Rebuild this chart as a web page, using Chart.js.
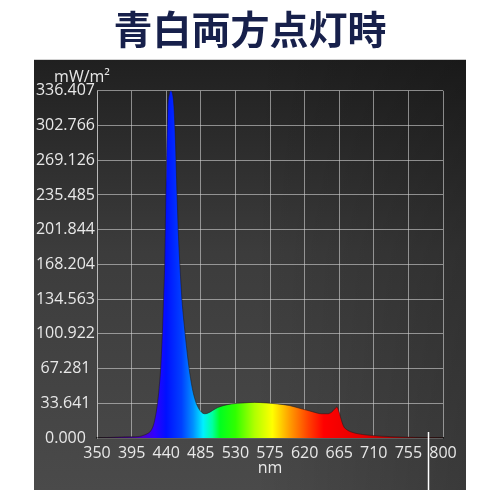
<!DOCTYPE html>
<html>
<head>
<meta charset="utf-8">
<style>
  html, body { margin: 0; padding: 0; background: #ffffff; }
  #wrap { width: 500px; height: 500px; }
</style>
<script src="https://cdn.jsdelivr.net/npm/chart.js@4.4.1/dist/chart.umd.min.js"></script>
</head>
<body>
<div id="wrap"><canvas id="c" width="500" height="500"></canvas></div>
<script>
// Spectral irradiance with both the blue and the white LEDs switched on
const titleText = '青白両方点灯時';
const unitLabel = 'mW/m²';
const axisLabelX = 'nm';

// wavelength (nm)
const wavelengths = [
  350, 365, 380, 395, 405, 410, 415, 420, 424, 428,
  431, 433, 435, 436.5, 438, 440, 442, 444, 446, 448,
  450, 452, 454, 456, 458, 460.5, 464.5, 469.5, 474, 478,
  482, 486, 490, 494, 500, 507, 515, 525, 540, 555,
  570, 585, 600, 615, 630, 642, 650, 655, 659, 662,
  665, 668, 671, 675, 680, 690, 700, 715, 735, 760,
  780, 800
];
// irradiance (mW/m²)
const irradiance = [
  0, 0.5, 1, 1.2, 1.5, 2.5, 4, 7, 14, 30,
  50, 70, 102, 134, 168, 255, 318, 333, 336.4, 334,
  322, 288, 238, 195, 165, 134, 102, 69, 48, 36,
  29, 25, 23.5, 24, 26.5, 29.5, 31.5, 33, 34, 34.5,
  34, 33, 31.5, 28.5, 25.5, 23.5, 23.5, 25, 28, 30,
  25, 17, 11, 8, 6, 4, 3, 2, 1.2, 0.7,
  0.4, 0.2
];

const xTickValues = [350, 395, 440, 485, 530, 575, 620, 665, 710, 755, 800];
const yTickLabels = ['0.000', '33.641', '67.281', '100.922', '134.563', '168.204',
                     '201.844', '235.485', '269.126', '302.766', '336.407'];
const yTickValues = yTickLabels.map(Number);
const cursorWavelength = 780;

// colour of light at each wavelength, used for the fill under the curve
const spectrumStops = [
  [350, '#2a0040'], [390, '#3a0080'], [410, '#4b00c8'], [425, '#3000ff'],
  [440, '#0010ff'], [460, '#0040ff'], [475, '#0090ff'], [488, '#00f0ff'],
  [500, '#00ffa0'], [510, '#00ff20'], [530, '#30ff00'], [555, '#b0ff00'],
  [578, '#ffff00'], [600, '#ffa000'], [625, '#ff4000'], [645, '#ff0000'],
  [700, '#e00000'], [750, '#900000'], [800, '#400000']
];

const points = wavelengths.map((nm, i) => ({ x: nm, y: irradiance[i] }));
const labelFont = { family: "'Open Sans', 'Noto Sans', sans-serif", size: 16 };
const labelColor = '#e8e8e8';
const gridColor = 'rgba(210,210,210,0.6)';

function spectrumFill(ctx) {
  const chart = ctx.chart;
  const area = chart.chartArea;
  if (!area) return 'rgba(0,0,255,0.8)';
  const xs = chart.scales.x;
  const x0 = xs.getPixelForValue(xTickValues[0]);
  const x1 = xs.getPixelForValue(xTickValues[xTickValues.length - 1]);
  const g = chart.ctx.createLinearGradient(x0, 0, x1, 0);
  const span = x1 - x0;
  spectrumStops.forEach(([nm, c]) => {
    g.addColorStop((xs.getPixelForValue(nm) - x0) / span, c);
  });
  return g;
}

// dark panel behind the plot, unit caption and the wavelength cursor
const panelPlugin = {
  id: 'panel',
  beforeDraw(chart) {
    const { ctx, chartArea } = chart;
    const left = chartArea.left - 63, top = chartArea.top - 31;
    const right = chartArea.right + 23, bottom = chartArea.bottom + 52;
    ctx.save();
    const v = ctx.createLinearGradient(0, top, 0, bottom);
    v.addColorStop(0, '#202020');
    v.addColorStop(0.45, '#3c3c3c');
    v.addColorStop(1, '#4a4a4a');
    ctx.fillStyle = v;
    ctx.fillRect(left, top, right - left, bottom - top);
    const h = ctx.createLinearGradient(left + 220, 0, right, 0);
    h.addColorStop(0, 'rgba(0,0,0,0)');
    h.addColorStop(1, 'rgba(0,0,0,0.22)');
    ctx.fillStyle = h;
    ctx.fillRect(left, top, right - left, bottom - top);
    ctx.restore();
  },
  afterDraw(chart) {
    const { ctx, chartArea, scales } = chart;
    ctx.save();
    ctx.fillStyle = labelColor;
    ctx.font = `${labelFont.size}px ${labelFont.family}`;
    ctx.textAlign = 'center';
    ctx.textBaseline = 'middle';
    ctx.fillText(unitLabel, chartArea.left - 15, chartArea.top - 13);
    const cx = Math.round(scales.x.getPixelForValue(cursorWavelength)) + 0.5;
    ctx.strokeStyle = '#ffffff';
    ctx.lineWidth = 1.5;
    ctx.beginPath();
    ctx.moveTo(cx, chartArea.bottom - 6);
    ctx.lineTo(cx, chartArea.bottom + 58);
    ctx.stroke();
    ctx.restore();
  }
};

new Chart(document.getElementById('c'), {
  type: 'line',
  data: {
    datasets: [{
      data: points,
      parsing: false,
      fill: 'origin',
      backgroundColor: spectrumFill,
      borderColor: 'rgba(35,25,25,0.55)',
      borderWidth: 1,
      pointRadius: 0,
      cubicInterpolationMode: 'monotone'
    }]
  },
  plugins: [panelPlugin],
  options: {
    responsive: false,
    animation: false,
    layout: { padding: { left: 0, right: 0, top: 0, bottom: 10 } },
    plugins: {
      legend: { display: false },
      tooltip: { enabled: false },
      title: {
        display: true,
        text: titleText,
        color: '#17204b',
        font: { family: "'Noto Sans CJK JP', sans-serif", size: 39, weight: 'bold' },
        padding: { top: 6, bottom: 38 }
      }
    },
    scales: {
      x: {
        type: 'linear',
        min: 350,
        max: 800,
        afterBuildTicks: s => { s.ticks = xTickValues.map(v => ({ value: v })); },
        afterFit: s => { s.height = 52; },
        ticks: { color: labelColor, font: labelFont, padding: 6, maxRotation: 0, autoSkip: false },
        grid: { color: gridColor, lineWidth: 1, drawTicks: false },
        border: { color: 'rgba(20,20,20,0.9)', width: 1.5 },
        title: { display: true, text: axisLabelX, color: labelColor, font: labelFont, padding: { top: 0, bottom: 12 } }
      },
      y: {
        type: 'linear',
        min: 0,
        max: yTickValues[yTickValues.length - 1],
        afterBuildTicks: s => { s.ticks = yTickValues.map(v => ({ value: v })); },
        afterFit: s => { s.width = 97; },
        ticks: {
          color: labelColor, font: labelFont, padding: 2, autoSkip: false,
          crossAlign: 'center',
          callback: (v, i) => yTickLabels[i]
        },
        grid: { color: gridColor, lineWidth: 1, drawTicks: false },
        border: { color: gridColor, width: 1 }
      },
      side: {
        type: 'linear',
        position: 'right',
        afterFit: s => { s.width = 57; },
        ticks: { display: false },
        grid: { display: false },
        border: { display: false }
      }
    }
  }
});
</script>
</body>
</html>
